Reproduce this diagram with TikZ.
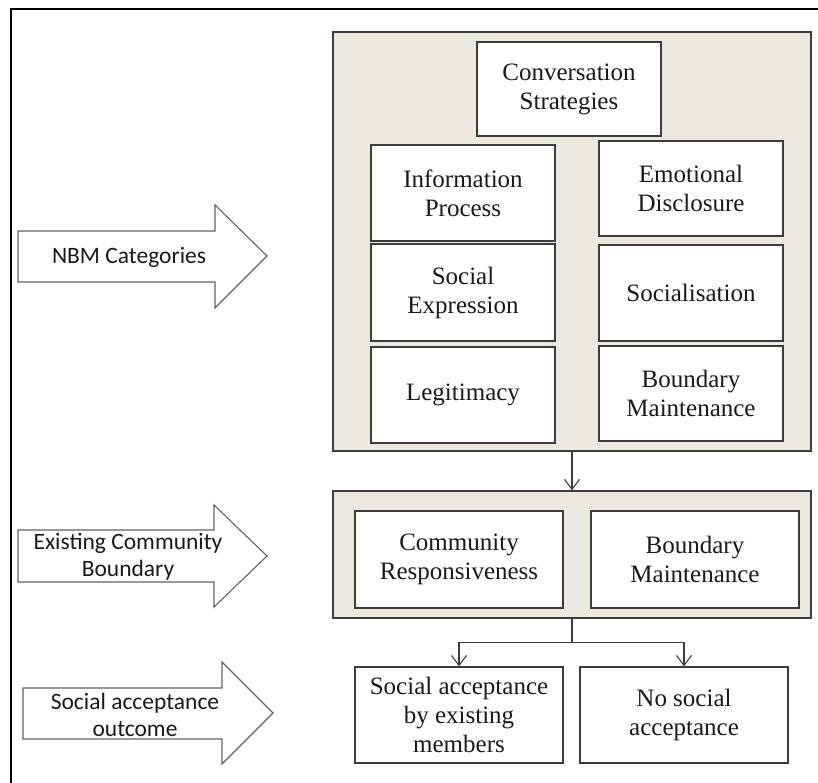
\documentclass[tikz,border=0pt]{standalone}
\usepackage{fontspec}
\setmainfont{Liberation Serif}
\newfontfamily\calibrifont{Carlito}
\usetikzlibrary{arrows.meta}
\definecolor{panelfill}{HTML}{ECEAE0}
\definecolor{edgegray}{HTML}{3C3C3C}
\definecolor{textdark}{HTML}{1A1A1A}
\tikzset{
  panel/.style={draw=edgegray, line width=1.4pt, fill=panelfill, rectangle, inner sep=0pt},
  inbox/.style={draw=edgegray, line width=1.3pt, fill=white, rectangle, inner sep=0pt, align=center,
    text=textdark, font=\fontsize{25}{29}\selectfont},
  bigarrow/.style={draw=edgegray!80, line width=1.1pt, fill=white, line join=miter},
  arrowtext/.style={align=center, text=textdark, font=\calibrifont\fontsize{23.5}{27}\selectfont, inner sep=0pt},
  conn/.style={draw=edgegray, line width=1.3pt},
  arr/.style={conn, -{Straight Barb[length=10pt,width=15pt,line width=1.1pt]}}
}
\begin{document}
\begin{tikzpicture}[x=1pt,y=-1pt]
\useasboundingbox (0,0) rectangle (818,783);
\fill[white] (0,0) rectangle (818,783);
% outer frame (top and left only visible)
\draw[line width=2pt, black] (11,783) -- (11,9) -- (818,9);

% panels
\node[panel, minimum width=478pt, minimum height=419pt] (box1) at (572,241.5) {};
\node[panel, minimum width=478pt, minimum height=127pt] (box2) at (572,554.5) {};

% panel 1 boxes
\node[inbox, minimum width=184pt, minimum height=94pt] (cs) at (569,89) {Conversation\\Strategies};
\node[inbox, minimum width=184pt, minimum height=96pt] (ip) at (463,193) {Information\\Process};
\node[inbox, minimum width=184pt, minimum height=95pt] (ed) at (691,188.5) {Emotional\\Disclosure};
\node[inbox, minimum width=184pt, minimum height=97pt] (se) at (463,292.5) {Social\\Expression};
\node[inbox, minimum width=184pt, minimum height=96pt] (so) at (691,293) {Socialisation};
\node[inbox, minimum width=184pt, minimum height=96pt] (le) at (463,395) {Legitimacy};
\node[inbox, minimum width=184pt, minimum height=95pt] (bm1) at (691,393.5) {Boundary\\Maintenance};

% panel 2 boxes
\node[inbox, minimum width=208pt, minimum height=97pt] (cr) at (459,559.5) {Community\\Responsiveness};
\node[inbox, minimum width=208pt, minimum height=97pt] (bm2) at (695,559.5) {Boundary\\Maintenance};

% outcome boxes
\node[inbox, minimum width=208pt, minimum height=96pt] (sa) at (459,715) {Social acceptance\\by existing\\members};
\node[inbox, minimum width=208pt, minimum height=96pt] (ns) at (684,715) {No social\\acceptance};

% connectors
\draw[arr] (box1.south) -- (box2.north);
\draw[conn] (box2.south) -- ++(0,24) coordinate (j);
\draw[arr] (j) -| (sa.north);
\draw[arr] (j) -| (ns.north);

% left block arrows
\draw[bigarrow] (18,231) -- (215,231) -- (215,205) -- (267,256) -- (215,308) -- (215,282) -- (18,282) -- cycle;
\node[arrowtext] (t1) at (129,257) {NBM Categories};

\draw[bigarrow] (18,530) -- (214,530) -- (214,505) -- (267,556) -- (214,607) -- (214,582) -- (18,582) -- cycle;
\node[arrowtext] (t2) at (128,557) {Existing Community\\Boundary};

\draw[bigarrow] (23,688) -- (222,688) -- (222,662) -- (273,713) -- (222,764) -- (222,739) -- (23,739) -- cycle;
\node[arrowtext] (t3) at (135,715) {Social acceptance\\outcome};
\end{tikzpicture}
\end{document}
